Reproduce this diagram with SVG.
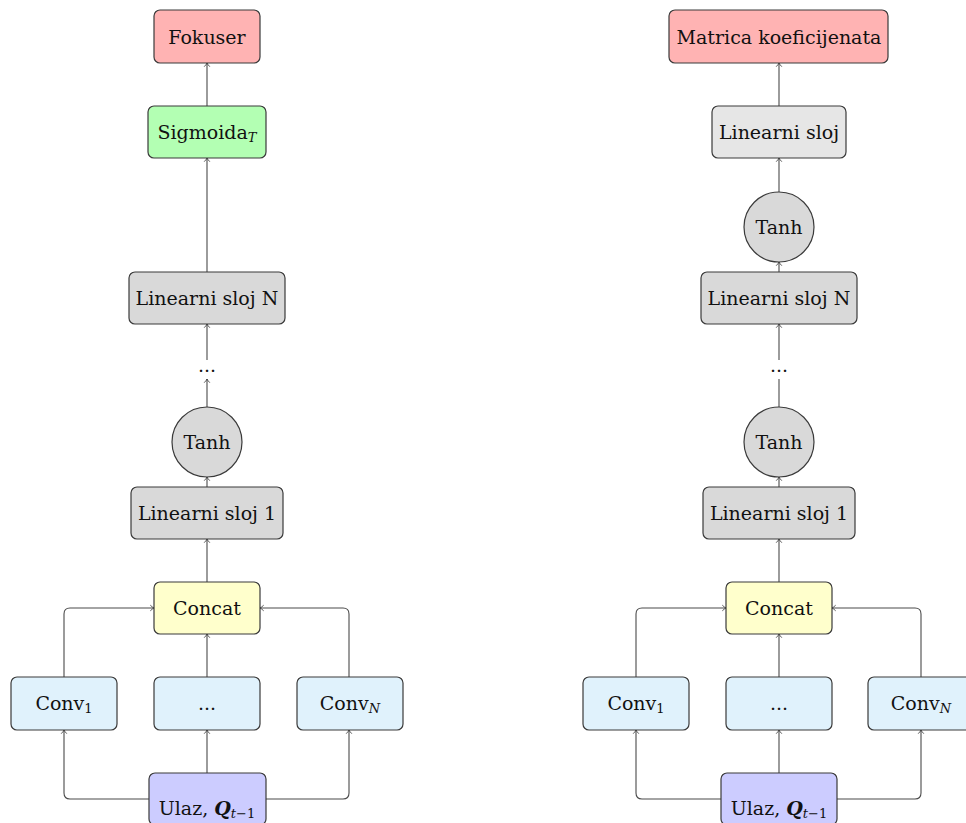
<svg xmlns="http://www.w3.org/2000/svg" width="966" height="823" viewBox="0 0 966 823">
<defs>
<style>
.box{stroke:#3a3a3a;stroke-width:1.2}
.t{font-family:"DejaVu Serif","Liberation Serif",serif;font-size:19px;fill:#111;text-anchor:middle}
.sub{font-size:13px}
.it{font-style:italic}
.c line,.c path{stroke:#4a4a4a;stroke-width:1.1;fill:none;marker-end:url(#arr)}
.c .na{marker-end:none}
.red{fill:#ffb3b3}.green{fill:#b3ffb3}.gray{fill:#d9d9d9}.lgray{fill:#e6e6e6}
.yel{fill:#ffffcc}.cyan{fill:#e0f2fc}.blue{fill:#ccccff}
</style>
<marker id="arr" markerUnits="userSpaceOnUse" markerWidth="8" markerHeight="8" refX="6" refY="4" orient="auto">
<path d="M2.3,1.2 Q4.6,3.4 6,4 Q4.6,4.6 2.3,6.8" fill="none" stroke="#333" stroke-width="0.8"/>
</marker>
</defs>
<rect width="966" height="823" fill="#fff"/>

<g id="connectors" class="c">
<!-- left -->
<line x1="207" y1="106" x2="207" y2="63"/>
<line x1="207" y1="272" x2="207" y2="158"/>
<line x1="207" y1="360" x2="207" y2="324"/>
<line x1="207" y1="407" x2="207" y2="379"/>
<line x1="207" y1="487" x2="207" y2="477"/>
<line x1="207" y1="582" x2="207" y2="539"/>
<line x1="207" y1="677" x2="207" y2="634"/>
<line x1="207" y1="773" x2="207" y2="730"/>
<path d="M64,677 V614 Q64,608 70,608 H154"/>
<path d="M349,677 V614 Q349,608 343,608 H260"/>
<path d="M149,799 H70 Q64,799 64,793 V730"/>
<path d="M266,799 H343 Q349,799 349,793 V730"/>
<!-- right -->
<line x1="779" y1="106" x2="779" y2="63"/>
<line x1="779" y1="192" x2="779" y2="158"/>
<line x1="779" y1="272" x2="779" y2="262"/>
<line x1="779" y1="360" x2="779" y2="324"/>
<line class="na" x1="779" y1="407" x2="779" y2="379"/>
<line x1="779" y1="487" x2="779" y2="477"/>
<line x1="779" y1="582" x2="779" y2="539"/>
<line x1="779" y1="677" x2="779" y2="634"/>
<line x1="779" y1="773" x2="779" y2="730"/>
<path d="M636,677 V614 Q636,608 642,608 H726"/>
<path d="M921,677 V614 Q921,608 915,608 H832"/>
<path d="M721,799 H642 Q636,799 636,793 V730"/>
<path d="M837,799 H915 Q921,799 921,793 V730"/>
</g>

<!-- LEFT -->
<g id="fokuser"><rect class="box red" x="154" y="10" width="106" height="53" rx="6"/><text class="t" x="207" y="44">Fokuser</text></g>
<g id="sigmoida"><rect class="box green" x="148" y="106" width="118" height="52" rx="6"/><text class="t" x="207" y="139">Sigmoida<tspan class="sub it" dy="3">T</tspan></text></g>
<g id="lin-n-left"><rect class="box gray" x="129" y="272" width="156" height="52" rx="6"/><text class="t" x="207" y="305">Linearni sloj N</text></g>
<g id="dots-left"><text class="t" x="207" y="372">...</text></g>
<g id="tanh-left"><circle class="box gray" cx="207" cy="442" r="35"/><text class="t" x="207" y="449">Tanh</text></g>
<g id="lin-1-left"><rect class="box gray" x="131" y="487" width="152" height="52" rx="6"/><text class="t" x="207" y="520">Linearni sloj 1</text></g>
<g id="concat-left"><rect class="box yel" x="154" y="582" width="106" height="52" rx="6"/><text class="t" x="207" y="615">Concat</text></g>
<g id="conv1-left"><rect class="box cyan" x="11" y="677" width="106" height="53" rx="6"/><text class="t" x="64" y="710">Conv<tspan class="sub" dy="3">1</tspan></text></g>
<g id="convdots-left"><rect class="box cyan" x="154" y="677" width="106" height="53" rx="6"/><text class="t" x="207" y="710">...</text></g>
<g id="convn-left"><rect class="box cyan" x="297" y="677" width="106" height="53" rx="6"/><text class="t" x="350" y="710">Conv<tspan class="sub it" dy="3">N</tspan></text></g>
<g id="ulaz-left"><rect class="box blue" x="149" y="773" width="117" height="52" rx="6"/><text class="t" x="207" y="815">Ulaz, <tspan font-weight="bold" font-style="italic">Q</tspan><tspan class="sub" dy="3"><tspan class="it">t</tspan>−1</tspan></text></g>

<!-- RIGHT -->
<g id="matrica"><rect class="box red" x="669" y="10" width="219" height="53" rx="6"/><text class="t" x="779" y="44">Matrica koeficijenata</text></g>
<g id="lin-right"><rect class="box lgray" x="712" y="106" width="134" height="52" rx="6"/><text class="t" x="779" y="139">Linearni sloj</text></g>
<g id="tanh-right-top"><circle class="box gray" cx="779" cy="227" r="35"/><text class="t" x="779" y="234">Tanh</text></g>
<g id="lin-n-right"><rect class="box gray" x="701" y="272" width="156" height="52" rx="6"/><text class="t" x="779" y="305">Linearni sloj N</text></g>
<g id="dots-right"><text class="t" x="779" y="372">...</text></g>
<g id="tanh-right"><circle class="box gray" cx="779" cy="442" r="35"/><text class="t" x="779" y="449">Tanh</text></g>
<g id="lin-1-right"><rect class="box gray" x="703" y="487" width="152" height="52" rx="6"/><text class="t" x="779" y="520">Linearni sloj 1</text></g>
<g id="concat-right"><rect class="box yel" x="726" y="582" width="106" height="52" rx="6"/><text class="t" x="779" y="615">Concat</text></g>
<g id="conv1-right"><rect class="box cyan" x="583" y="677" width="106" height="53" rx="6"/><text class="t" x="636" y="710">Conv<tspan class="sub" dy="3">1</tspan></text></g>
<g id="convdots-right"><rect class="box cyan" x="726" y="677" width="106" height="53" rx="6"/><text class="t" x="779" y="710">...</text></g>
<g id="convn-right"><rect class="box cyan" x="868" y="677" width="106" height="53" rx="6"/><text class="t" x="921" y="710">Conv<tspan class="sub it" dy="3">N</tspan></text></g>
<g id="ulaz-right"><rect class="box blue" x="721" y="773" width="116" height="52" rx="6"/><text class="t" x="779" y="815">Ulaz, <tspan font-weight="bold" font-style="italic">Q</tspan><tspan class="sub" dy="3"><tspan class="it">t</tspan>−1</tspan></text></g>
</svg>
